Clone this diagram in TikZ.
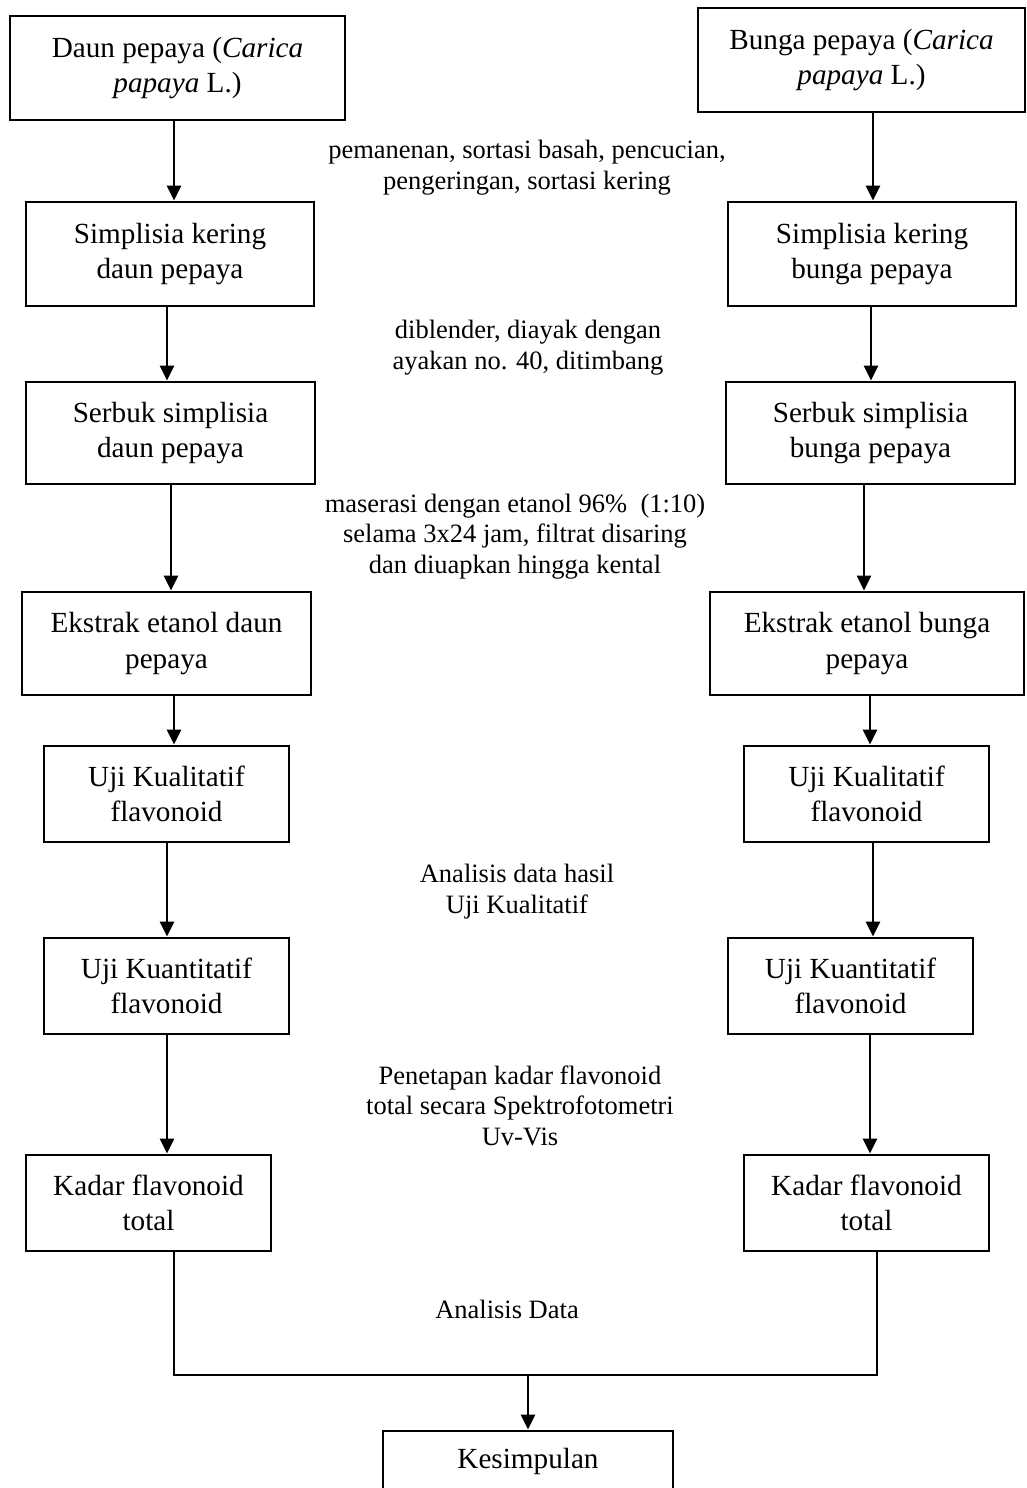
\documentclass[tikz,border=0pt]{standalone}
\usepackage{fontspec}
\setmainfont{Liberation Serif}
\usetikzlibrary{arrows.meta}
\begin{document}
\begin{tikzpicture}[x=1pt,y=-1pt,
  box/.style={draw, line width=2.9pt, inner sep=0pt, align=center, font=\fontsize{29.2}{35.5}\selectfont},
  lbl/.style={inner sep=0pt, align=center, anchor=base, font=\fontsize{26.5}{30.5}\selectfont},
  arr/.style={line width=2.9pt, -{Triangle[width=14pt,length=15pt]}},
  thinline/.style={line width=1.6pt}]
\useasboundingbox[fill=white] (0,0) rectangle (1027,1488);
% left column
\node[box, minimum width=335pt, minimum height=104pt] (L1) at (177.5,68) {Daun pepaya (\textit{Carica}\\\textit{papaya} L.)};
\node[box, minimum width=288pt, minimum height=104pt] (L2) at (170,254) {Simplisia kering\\daun pepaya};
\node[box, minimum width=289pt, minimum height=102pt] (L3) at (170.5,433) {Serbuk simplisia\\daun pepaya};
\node[box, minimum width=289pt, minimum height=103pt] (L4) at (166.5,643.5) {Ekstrak etanol daun\\pepaya};
\node[box, minimum width=245pt, minimum height=96pt] (L5) at (166.5,794) {Uji Kualitatif\\flavonoid};
\node[box, minimum width=245pt, minimum height=96pt] (L6) at (166.5,986) {Uji Kuantitatif\\flavonoid};
\node[box, minimum width=245pt, minimum height=96pt] (L7) at (148.5,1203) {Kadar flavonoid\\total};
% right column
\node[box, minimum width=327pt, minimum height=104pt] (R1) at (861.5,60) {Bunga pepaya (\textit{Carica}\\\textit{papaya} L.)};
\node[box, minimum width=288pt, minimum height=104pt] (R2) at (872,254) {Simplisia kering\\bunga pepaya};
\node[box, minimum width=289pt, minimum height=102pt] (R3) at (870.5,433) {Serbuk simplisia\\bunga pepaya};
\node[box, minimum width=314pt, minimum height=103pt] (R4) at (867,643.5) {Ekstrak etanol bunga\\pepaya};
\node[box, minimum width=245pt, minimum height=96pt] (R5) at (866.5,794) {Uji Kualitatif\\flavonoid};
\node[box, minimum width=245pt, minimum height=96pt] (R6) at (850.5,986) {Uji Kuantitatif\\flavonoid};
\node[box, minimum width=245pt, minimum height=96pt] (R7) at (866.5,1203) {Kadar flavonoid\\total};
% conclusion
\node[box, minimum width=290pt, minimum height=60pt] (K) at (528,1461) {Kesimpulan};
% labels (anchored at the baseline of the last line)
\node[lbl] (t1) at (527,189) {pemanenan, sortasi basah, pencucian,\\pengeringan, sortasi kering};
\node[lbl] (t2) at (528,369) {diblender, diayak dengan\\ayakan no. 40, ditimbang};
\node[lbl] (t3) at (515,573) {maserasi dengan etanol 96\%\ \ (1:10)\\selama 3x24 jam, filtrat disaring\\dan diuapkan hingga kental};
\node[lbl] (t4) at (517,913) {Analisis data hasil\\Uji Kualitatif};
\node[lbl] (t5) at (520,1145) {Penetapan kadar flavonoid\\total secara Spektrofotometri\\Uv-Vis};
\node[lbl] (t6) at (507,1318) {Analisis Data};
% left arrows
\draw[arr] ([xshift=-3.5pt]L1.south) -- ([xshift=4pt]L2.north);
\draw[arr] ([xshift=-3pt]L2.south) -- ([xshift=-3.5pt]L3.north);
\draw[arr] ([xshift=0.5pt]L3.south) -- ([xshift=4.5pt]L4.north);
\draw[arr] ([xshift=7.5pt]L4.south) -- ([xshift=7.5pt]L5.north);
\draw[arr] ([xshift=0.5pt]L5.south) -- ([xshift=0.5pt]L6.north);
\draw[arr] ([xshift=0.5pt]L6.south) -- ([xshift=18.5pt]L7.north);
% right arrows
\draw[arr] ([xshift=11.5pt]R1.south) -- ([xshift=1pt]R2.north);
\draw[arr] ([xshift=-1pt]R2.south) -- ([xshift=0.5pt]R3.north);
\draw[arr] ([xshift=-6.5pt]R3.south) -- ([xshift=-3pt]R4.north);
\draw[arr] ([xshift=3pt]R4.south) -- ([xshift=3.5pt]R5.north);
\draw[arr] ([xshift=6.5pt]R5.south) -- ([xshift=22.5pt]R6.north);
\draw[arr] ([xshift=19.5pt]R6.south) -- ([xshift=3.5pt]R7.north);
% merge
\coordinate (jm) at (528,1375);
\draw[thinline] ([xshift=25.5pt]L7.south) |- (jm) -| ([xshift=10.5pt]R7.south);
\draw[arr] (jm) -- (K.north);
\end{tikzpicture}
\end{document}
